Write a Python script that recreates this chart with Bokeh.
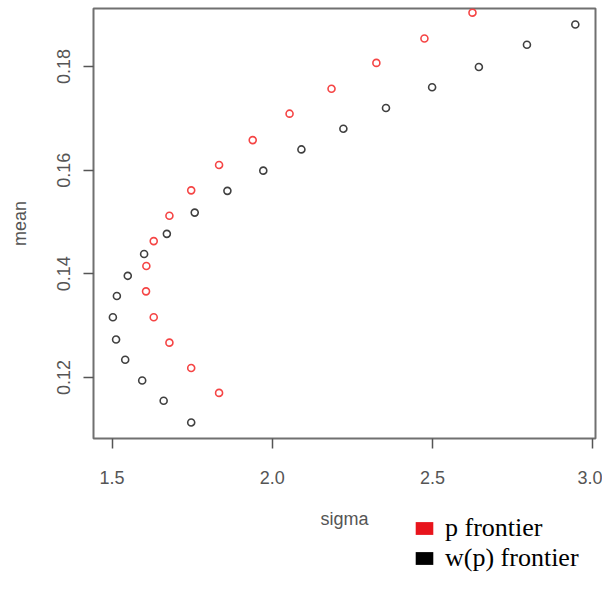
from bokeh.plotting import figure
from bokeh.models import Range1d, FixedTicker, Legend, LegendItem, Spacer
from bokeh.layouts import column, row
from bokeh.embed import file_html
from bokeh.resources import INLINE

# w(p) frontier (black)
w_sigma = [1.747, 1.661, 1.594, 1.541, 1.5125, 1.5025, 1.515, 1.549, 1.600, 1.671,
           1.758, 1.860, 1.972, 2.091, 2.222, 2.355, 2.499, 2.645, 2.795, 2.946]
w_mean = [0.1113, 0.1155, 0.1194, 0.1234, 0.1273, 0.1316, 0.1357, 0.1396, 0.1438, 0.1477,
          0.1518, 0.1560, 0.1599, 0.1640, 0.1680, 0.1720, 0.1760, 0.1799, 0.1842, 0.1881]

# p frontier (red)
p_sigma = [1.834, 1.747, 1.679, 1.630, 1.606, 1.607, 1.630, 1.679, 1.747, 1.834,
           1.939, 2.054, 2.185, 2.325, 2.475, 2.625]
p_mean = [0.1170, 0.1218, 0.1267, 0.1316, 0.1366, 0.1415, 0.1463, 0.1512, 0.1561, 0.1610,
          0.1658, 0.1709, 0.1757, 0.1807, 0.1854, 0.1904]

x_ticks = [1.5, 2.0, 2.5, 3.0]
x_tick_labels = ["1.5", "2.0", "2.5", "3.0"]
y_ticks = [0.12, 0.14, 0.16, 0.18]
y_tick_labels = ["0.12", "0.14", "0.16", "0.18"]
legend_labels = ["p frontier", "w(p) frontier"]

p = figure(width=602, height=531, output_backend="svg", toolbar_location=None,
           x_range=Range1d(1.442, 3.009), y_range=Range1d(0.1082, 0.1912),
           min_border_left=93, min_border_right=7, min_border_top=8, min_border_bottom=90)

p.xgrid.visible = False
p.ygrid.visible = False
p.outline_line_color = "#707070"
p.outline_line_width = 2
p.background_fill_color = "white"
p.border_fill_color = "white"

axis_col = "#555555"
for ax in (p.xaxis[0], p.yaxis[0]):
    ax.axis_line_color = None
    ax.major_tick_line_color = axis_col
    ax.major_tick_line_width = 1.5
    ax.major_tick_out = 10
    ax.major_tick_in = 0
    ax.minor_tick_line_color = None
    ax.major_label_text_font = "Liberation Sans"
    ax.major_label_text_font_size = "18px"
    ax.major_label_text_color = axis_col
    ax.axis_label_text_font = "Liberation Sans"
    ax.axis_label_text_font_size = "18px"
    ax.axis_label_text_font_style = "normal"
    ax.axis_label_text_color = axis_col

p.xaxis.ticker = FixedTicker(ticks=x_ticks)
p.xaxis.major_label_overrides = dict(zip(x_ticks, x_tick_labels))
p.yaxis.ticker = FixedTicker(ticks=y_ticks)
p.yaxis.major_label_overrides = dict(zip(y_ticks, y_tick_labels))
p.yaxis.major_label_orientation = "vertical"
p.xaxis.axis_label = "sigma"
p.yaxis.axis_label = "mean"
p.xaxis.major_label_standoff = 22
p.xaxis.axis_label_standoff = 22
p.yaxis.major_label_standoff = 13
p.yaxis.axis_label_standoff = 25

p.scatter(w_sigma, w_mean, marker="circle", size=7, fill_color=None,
          line_color="#404040", line_width=1.6)
p.scatter(p_sigma, p_mean, marker="circle", size=7, fill_color=None,
          line_color="#f54545", line_width=1.6)

# legend box below-right of the chart
leg = figure(width=197, height=64, output_backend="svg", toolbar_location=None,
             x_axis_type=None, y_axis_type=None, x_range=Range1d(0, 1), y_range=Range1d(0, 1),
             min_border_left=0, min_border_right=0, min_border_top=0, min_border_bottom=0)
leg.outline_line_color = None
leg.xgrid.visible = False
leg.ygrid.visible = False
leg.background_fill_alpha = 0
leg.border_fill_alpha = 0

r_red = leg.quad(left=p_sigma, right=p_sigma, top=p_mean, bottom=p_mean,
                 fill_color="#e8141c", line_color=None)
r_blk = leg.quad(left=w_sigma, right=w_sigma, top=w_mean, bottom=w_mean,
                 fill_color="#000000", line_color=None)

legend = Legend(items=[LegendItem(label=legend_labels[0], renderers=[r_red]),
                       LegendItem(label=legend_labels[1], renderers=[r_blk])],
                location=(8, 0), orientation="vertical",
                padding=0, margin=0, spacing=-7,
                glyph_width=22, glyph_height=16, label_standoff=10,
                label_text_font="Liberation Serif", label_text_font_size="26px",
                label_text_color="black",
                border_line_color=None, background_fill_alpha=0)
leg.add_layout(legend, "center")

legend_row = row(Spacer(width=405, height=64), leg, spacing=0, margin=(-22, 0, 0, 0))
layout = column(p, legend_row, spacing=0)
open("out.html", "w").write(file_html(layout, INLINE))
